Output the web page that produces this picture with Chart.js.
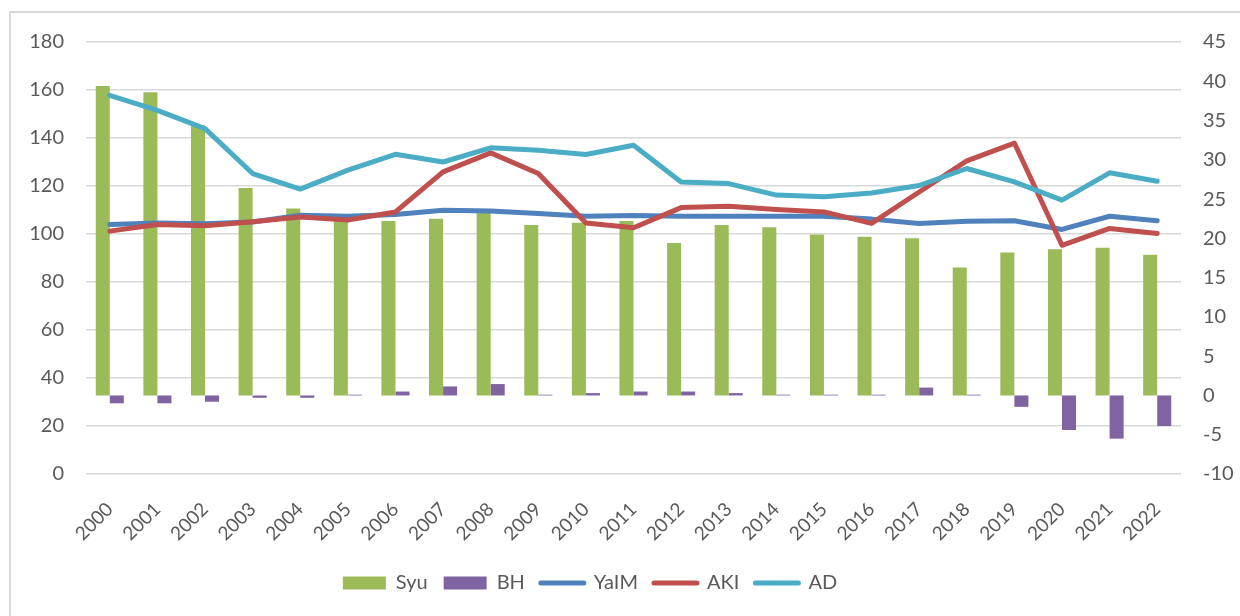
<!DOCTYPE html>
<html lang="en">
<head>
	<meta charset="UTF-8">
	<title>Syu BH YaIM AKI AD</title>
	<script src="https://cdn.jsdelivr.net/npm/chart.js@4.4.1/dist/chart.umd.min.js"></script>
	<style>
		html, body { margin: 0; padding: 0; background: #fff; overflow: hidden; }
		#frame { position: absolute; left: 9px; top: 11px; width: 1300px; height: 700px; border: 2px solid #d9d9d9; }
		#wrap { position: absolute; left: -60px; top: 0; width: 1300px; height: 616px; }
	</style>
</head>
<body>
<div id="frame"></div>
<div id="wrap"><canvas id="chart" width="1300" height="616"></canvas></div>

<script>

// years on the x axis
var years = ['2000','2001','2002','2003','2004','2005','2006','2007','2008','2009','2010','2011',
	'2012','2013','2014','2015','2016','2017','2018','2019','2020','2021','2022'];

// bars, right axis
var syu = [39.4, 38.6, 34.4, 26.4, 23.8, 22.5, 22.2, 22.5, 23.3, 21.7, 22.0, 22.2,
	19.4, 21.7, 21.4, 20.5, 20.2, 20.0, 16.3, 18.2, 18.6, 18.8, 17.9];
var bh = [-1.0, -1.0, -0.8, -0.3, -0.3, 0.1, 0.5, 1.15, 1.45, 0.1, 0.3, 0.5,
	0.5, 0.3, 0.1, 0.1, 0.1, 1.0, 0.1, -1.45, -4.4, -5.5, -3.9];

// lines, left axis
var yaim = [104.0, 104.6, 104.3, 105.0, 107.8, 107.4, 108.1, 109.9, 109.6, 108.5, 107.4, 107.7,
	107.4, 107.4, 107.4, 107.4, 106.2, 104.4, 105.3, 105.5, 101.9, 107.4, 105.5];
var aki = [101.2, 104.0, 103.4, 105.1, 107.1, 105.8, 109.2, 125.9, 133.8, 125.2, 104.6, 102.6,
	111.0, 111.6, 110.2, 109.2, 104.4, 117.5, 130.5, 137.9, 95.3, 102.3, 100.2];
var ad = [157.8, 151.5, 143.9, 125.2, 118.7, 126.6, 133.2, 130.0, 135.9, 134.9, 133.1, 137.0,
	121.7, 121.0, 116.2, 115.5, 117.1, 120.2, 127.3, 121.7, 114.1, 125.5, 122.0];

var textColor = '#595959';
var gridColor = '#d9d9d9';
Chart.defaults.font.family = 'Lato, "Noto Sans", sans-serif';
Chart.defaults.font.size = 20;
Chart.defaults.color = textColor;

function lineSet(label, data, color, order) {
	return {
		type: 'line', label: label, data: data, yAxisID: 'y',
		borderColor: color, backgroundColor: color, borderWidth: 5,
		pointRadius: 0, tension: 0, borderJoinStyle: 'round', borderCapStyle: 'round',
		order: order
	};
}

const ctx = document.getElementById('chart').getContext('2d');
const chart = new Chart(ctx, {
	type: 'bar',
	data: {
		labels: years,
		datasets: [
			{ label: 'Syu', data: syu, yAxisID: 'y1', backgroundColor: '#9bbb59',
				categoryPercentage: 0.59, barPercentage: 1, order: 4 },
			{ label: 'BH', data: bh, yAxisID: 'y1', backgroundColor: '#8064a2',
				categoryPercentage: 0.59, barPercentage: 1, order: 5 },
			lineSet('YaIM', yaim, '#4f81bd', 3),
			lineSet('AKI', aki, '#c0504d', 2),
			lineSet('AD', ad, '#4bacc6', 1)
		]
	},
	options: {
		responsive: false,
		animation: false,
		layout: { padding: { top: 42, bottom: 13, left: 0, right: 0 } },
		plugins: {
			tooltip: { enabled: false },
			legend: {
				position: 'bottom',
				labels: {
					usePointStyle: true,
					pointStyleWidth: 43,
					boxHeight: 13,
					padding: 16,
					color: textColor,
					generateLabels: function (c) {
						return c.data.datasets.map(function (ds, i) {
							var isLine = ds.type === 'line';
							return {
								text: ds.label,
								fillStyle: ds.backgroundColor,
								strokeStyle: isLine ? ds.borderColor : ds.backgroundColor,
								lineWidth: isLine ? 5 : 0,
								lineCap: 'round',
								pointStyle: isLine ? 'line' : 'rect',
								fontColor: textColor,
								hidden: false,
								datasetIndex: i
							};
						});
					}
				}
			}
		},
		scales: {
			x: {
				grid: { display: false },
				border: { display: false },
				ticks: { minRotation: 45, maxRotation: 45, padding: 16, font: { size: 19 } },
				afterFit: function (s) { s.height = 83; }
			},
			y: {
				position: 'left',
				min: 0, max: 180,
				ticks: { stepSize: 20, padding: 22 },
				grid: { color: gridColor, lineWidth: 1.5, drawTicks: false },
				border: { display: false },
				afterFit: function (s) { s.width = 146; }
			},
			y1: {
				position: 'right',
				min: -10, max: 45,
				ticks: { stepSize: 5, padding: 22 },
				grid: { display: false, drawTicks: false },
				border: { display: false },
				afterFit: function (s) { s.width = 59; }
			}
		}
	}
});
</script>
</body>
</html>
